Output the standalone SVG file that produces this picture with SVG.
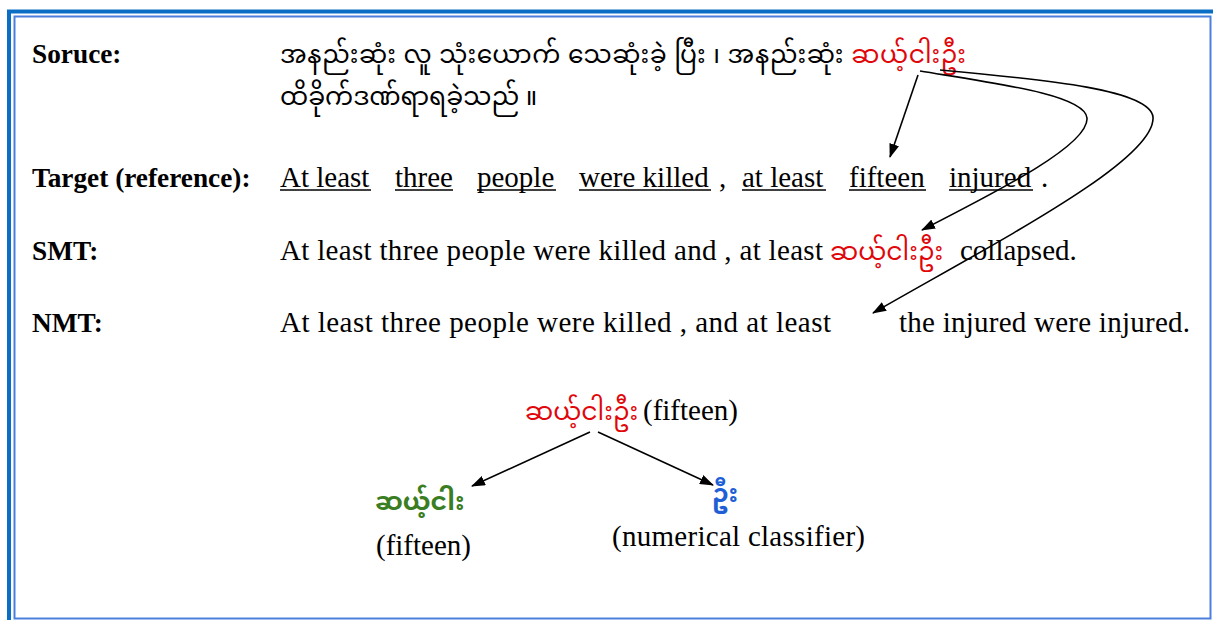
<svg xmlns="http://www.w3.org/2000/svg" width="1213" height="620" viewBox="0 0 1213 620">
  <style>
    .lbl { font-family: "Liberation Serif", "Times New Roman", serif; font-weight: bold; font-size: 27.3px; fill: #000; }
    .en { font-family: "Liberation Serif", "Times New Roman", serif; font-size: 29px; fill: #000; }
    .my { font-family: "Noto Sans Myanmar", "Padauk", "Myanmar Text", "Noto Sans", sans-serif; font-size: 25px; fill: #000; }
    .red { fill: #e0070b; }
    .green { fill: #3a7d22; font-weight: bold; }
    .blue { fill: #1f5fd6; font-weight: bold; }
    .ul { stroke: #000; stroke-width: 1.6; }
    .conn { fill: none; stroke: #000; stroke-width: 1.6; }
  </style>
  <defs>
    <marker id="arrow" viewBox="0 0 14 10" refX="13" refY="5" markerWidth="14" markerHeight="10" markerUnits="userSpaceOnUse" orient="auto">
      <path d="M0,0 L14,5 L0,10 Z" fill="#000"/>
    </marker>
  </defs>

  <rect x="0" y="0" width="1213" height="620" fill="#fff"/>

  <!-- double frame -->
  <g id="frame">
    <path d="M9,620 V11.5 H1213" fill="none" stroke="#0a6fc4" stroke-width="4"/>
    <rect x="14.5" y="16.5" width="1196" height="602" fill="none" stroke="#4a7fdc" stroke-width="2"/>
  </g>

  <!-- row labels -->
  <g id="labels">
    <text class="lbl" x="32" y="63">Soruce:</text>
    <text class="lbl" x="32" y="187">Target (reference):</text>
    <text class="lbl" x="32" y="260">SMT:</text>
    <text class="lbl" x="32" y="332">NMT:</text>
  </g>

  <!-- source sentence -->
  <g id="source">
    <text class="my" x="280" y="63" textLength="686" lengthAdjust="spacing">အနည်းဆုံး လူ သုံးယောက် သေဆုံးခဲ့ ပြီး ၊ အနည်းဆုံး <tspan class="red">ဆယ့်ငါးဦး</tspan></text>
    <text class="my" x="280" y="105">ထိခိုက်ဒဏ်ရာရခဲ့သည် ။</text>
  </g>

  <!-- reference translation, word by word -->
  <g id="target">
    <text class="en" y="187">
      <tspan x="280">At least</tspan>
      <tspan x="395">three</tspan>
      <tspan x="477">people</tspan>
      <tspan x="579">were killed</tspan>
      <tspan x="719">,</tspan>
      <tspan x="742">at least</tspan>
      <tspan x="849">fifteen</tspan>
      <tspan x="949">injured</tspan>
      <tspan x="1041">.</tspan>
    </text>
    <line class="ul" x1="280" y1="190" x2="371" y2="190"/>
    <line class="ul" x1="395" y1="190" x2="453" y2="190"/>
    <line class="ul" x1="477" y1="190" x2="556" y2="190"/>
    <line class="ul" x1="579" y1="190" x2="711" y2="190"/>
    <line class="ul" x1="742" y1="190" x2="826" y2="190"/>
    <line class="ul" x1="849" y1="190" x2="926" y2="190"/>
    <line class="ul" x1="949" y1="190" x2="1033" y2="190"/>
  </g>

  <g id="smt">
    <text class="en" x="280" y="260" textLength="543" lengthAdjust="spacing">At least three people were killed and , at least</text>
    <text class="my red" x="830" y="260">ဆယ့်ငါးဦး</text>
    <text class="en" x="960" y="260">collapsed.</text>
  </g>

  <g id="nmt">
    <text class="en" x="280" y="332" textLength="551" lengthAdjust="spacing">At least three people were killed ,  and at least</text>
    <text class="en" x="899" y="332" textLength="291" lengthAdjust="spacing">the injured were injured.</text>
  </g>

  <!-- word split tree -->
  <g id="tree-root">
    <text class="my red" x="525" y="420">ဆယ့်ငါးဦး</text>
    <text class="en" x="643" y="420">(fifteen)</text>
  </g>
  <g id="tree-left">
    <text class="my green" x="375" y="510">ဆယ့်ငါး</text>
    <text class="en" x="376" y="555">(fifteen)</text>
  </g>
  <g id="tree-right">
    <text class="my blue" x="712" y="502">ဦး</text>
    <text class="en" x="612" y="546" textLength="253" lengthAdjust="spacing">(numerical classifier)</text>
  </g>

  <g id="connectors">
    <path class="conn" d="M918,75 L890,157" marker-end="url(#arrow)"/>
    <path class="conn" d="M920,71 C1000,84 1085,95 1087,118 C1089,145 1000,190 922,230" marker-end="url(#arrow)"/>
    <path class="conn" d="M940,70 C1050,80 1150,90 1153,117 C1156,160 1000,240 873,313" marker-end="url(#arrow)"/>
    <path class="conn" d="M590,432 L472,486" marker-end="url(#arrow)"/>
    <path class="conn" d="M598,432 L713,485" marker-end="url(#arrow)"/>
  </g>
</svg>
